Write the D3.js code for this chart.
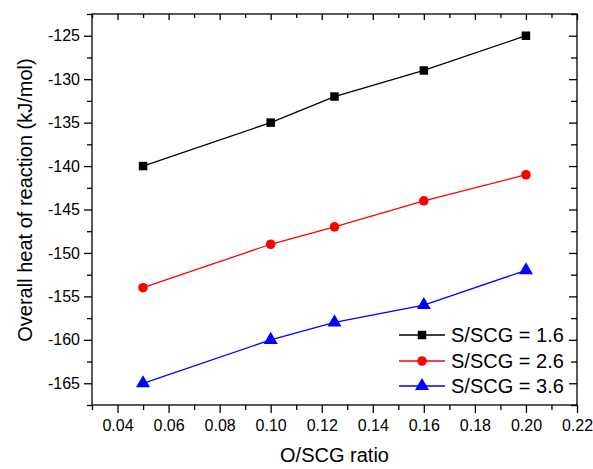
<!DOCTYPE html>
<html><head><meta charset="utf-8">
<script src="https://cdn.jsdelivr.net/npm/d3@7"></script>
<style>body{margin:0;background:#fff}svg{display:block}text{font-family:"Liberation Sans",Arial,sans-serif;fill:#000}</style>
</head><body>
<svg id="c" width="593" height="469"></svg>
<script>
const xValues = [0.05, 0.10, 0.125, 0.16, 0.20];
const series16 = [-140, -135, -132, -129, -125];
const series26 = [-154, -149, -147, -144, -141];
const series36 = [-165, -160, -158, -156, -152];
const seriesNames = ["S/SCG = 1.6", "S/SCG = 2.6", "S/SCG = 3.6"];
const xTicks = [0.04, 0.06, 0.08, 0.10, 0.12, 0.14, 0.16, 0.18, 0.20, 0.22];
const yTicks = [-125, -130, -135, -140, -145, -150, -155, -160, -165];

const svg = d3.select("#c");
const L = 92, R = 577, T = 14, B = 405;
const x = d3.scaleLinear().domain([0.03, 0.22]).range([L, R]);
const y = d3.scaleLinear().domain([-167.5, -122.5]).range([B, T]);

const xMinor = d3.range(0.03, 0.2201, 0.01).map(v => +v.toFixed(2)).filter(v => !xTicks.some(t => Math.abs(t - v) < 1e-6));
const yMinor = d3.range(-167.5, -122.49, 2.5).filter(v => !yTicks.includes(v));

const fmtX = d3.format(".2f");
// bottom axis
const gB = svg.append("g").attr("transform", `translate(0,${B})`);
gB.call(d3.axisBottom(x).tickValues(xTicks).tickFormat(fmtX).tickSize(8).tickPadding(7));
gB.append("g").call(d3.axisBottom(x).tickValues(xMinor).tickFormat("").tickSize(5));
// top axis (inward)
const gT = svg.append("g").attr("transform", `translate(0,${T})`);
gT.call(d3.axisBottom(x).tickValues(xTicks).tickFormat("").tickSize(6));
gT.append("g").call(d3.axisBottom(x).tickValues(xMinor).tickFormat("").tickSize(4));
// left axis
const gL = svg.append("g").attr("transform", `translate(${L},0)`);
gL.call(d3.axisLeft(y).tickValues(yTicks).tickFormat(d => String(d)).tickSize(8).tickPadding(4));
gL.append("g").call(d3.axisLeft(y).tickValues(yMinor).tickFormat("").tickSize(5));
// right axis (inward)
const gR = svg.append("g").attr("transform", `translate(${R},0)`);
gR.call(d3.axisLeft(y).tickValues(yTicks).tickFormat("").tickSize(8));
gR.append("g").call(d3.axisLeft(y).tickValues(yMinor).tickFormat("").tickSize(6));

svg.selectAll(".domain").remove();
svg.selectAll(".tick line").attr("stroke", "#000").attr("stroke-width", 1.3);
svg.selectAll(".tick text").style("font-size", "16px").style("font-family", '"Liberation Sans",Arial,sans-serif');
svg.append("rect").attr("x", L).attr("y", T).attr("width", R - L).attr("height", B - T)
  .attr("fill", "none").attr("stroke", "#000").attr("stroke-width", 1.3);

// titles
svg.append("text").attr("x", (L + R) / 2).attr("y", 462).attr("text-anchor", "middle")
  .style("font-size", "20px").text("O/SCG ratio");
svg.append("text").attr("transform", `translate(32,200) rotate(-90)`).attr("text-anchor", "middle")
  .style("font-size", "20px").text("Overall heat of reaction (kJ/mol)");

const colors = ["#000000", "#ff0000", "#0000ff"];
const allSeries = [series16, series26, series36];
const symbols = [d3.symbolSquare, d3.symbolCircle, d3.symbolTriangle];
const sizes = [72, 72, 85];
const line = d3.line().x(d => x(d[0])).y(d => y(d[1]));

allSeries.forEach((s, i) => {
  const pts = xValues.map((xv, j) => [xv, s[j]]);
  svg.append("path").datum(pts).attr("d", line).attr("fill", "none")
    .attr("stroke", colors[i]).attr("stroke-width", 1.3);
  svg.append("g").selectAll("path").data(pts).join("path")
    .attr("transform", d => `translate(${x(d[0])},${y(d[1])})`)
    .attr("d", d3.symbol().type(symbols[i]).size(sizes[i]))
    .attr("fill", colors[i]);
});

// legend
const legY = [335, 361, 386];
seriesNames.forEach((name, i) => {
  const g = svg.append("g").attr("transform", `translate(0,${legY[i]})`);
  g.append("line").attr("x1", 399).attr("x2", 445).attr("y1", 0).attr("y2", 0)
    .attr("stroke", colors[i]).attr("stroke-width", 1.3);
  g.append("path").attr("transform", "translate(422,0)")
    .attr("d", d3.symbol().type(symbols[i]).size(sizes[i])).attr("fill", colors[i]);
  g.append("text").attr("x", 451).attr("y", 7).style("font-size", "20px").text(name);
});
</script>
</body></html>
